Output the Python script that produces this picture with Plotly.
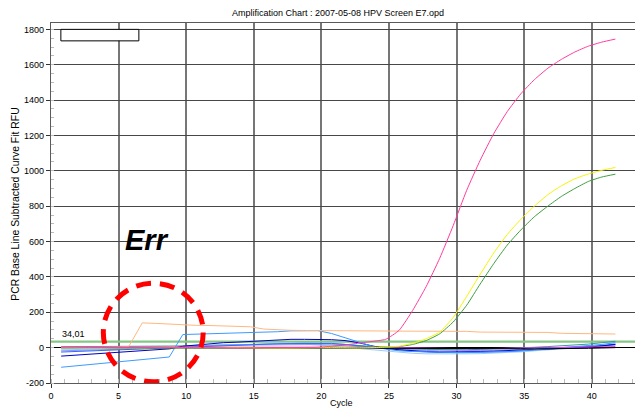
import numpy as np
import plotly.graph_objects as go

# Cycle positions of the curve-fit samples (one per cycle)
cycle = np.arange(42) + 0.75

# Amplifying wells
pink = [2, 2, 1, 1, 0, 0, 1, 2, 2, 1, 0, 0, -1, -2, -2, -1, 0, 0, 1, 2,
        8, 15, 25, 35, 47, 98, 210, 345, 505, 690, 890, 1060, 1210, 1335,
        1435, 1515, 1580, 1630, 1672, 1705, 1728, 1745]
yellow = [0, 0, 0, -1, -2, -2, -2, -1, -1, 0, 0, 0, 0, 0, -1, -2, -2, -2, -1, 0,
          0, -1, -2, 0, 3, 8, 25, 50, 88, 170, 290, 415, 535, 640, 725, 800,
          865, 915, 955, 982, 1003, 1019]
green = [-2, -2, -1, -1, -2, -2, -1, 0, 0, -1, -2, -2, -2, -1, -1, -2, -2, -1, -1, -2,
         -2, -1, 0, 1, 3, 6, 18, 40, 78, 145, 240, 360, 475, 580, 665, 740,
         800, 855, 900, 940, 965, 981]

# Non-amplifying wells
orange = [0, 0, 1, 2, 3, 6, 140, 137, 133, 128, 126, 125, 124, 122, 118, 105, 100, 98, 97, 96,
          95, 95, 94, 94, 94, 93, 93, 93, 93, 92, 92, 88, 88, 88, 87, 87, 86, 81, 81, 80, 80, 77]
sky = [-111, -104, -96, -89, -82, -75, -67, -60, -53, 74, 76, 77, 78, 80, 82, 85, 90, 95, 97, 96,
       80, 55, 30, 8, -8, -18, -22, -25, -26, -27, -27, -26, -25, -22, -18, -12, -8, -3, 3, 10, 18, 28]
navy = [-48, -43, -38, -32, -27, -22, -17, -12, -7, 8, 15, 22, 28, 31, 35, 40, 45, 47, 47, 47,
        45, 40, 28, 10, -5, -12, -18, -22, -25, -25, -24, -22, -20, -17, -12, -8, -5, -5, -3, 2, 10, 18]
blue = [-25, -22, -19, -16, -13, -10, -8, -6, -3, 2, 6, 10, 13, 16, 18, 20, 22, 23, 24, 25,
        24, 18, 10, 0, -8, -15, -20, -24, -27, -28, -28, -27, -25, -22, -18, -14, -10, -5, 0, 6, 12, 20]
lavender = [-18, -16, -14, -12, -10, -8, -6, -4, -2, 5, 10, 12, 14, 15, 16, 17, 18, 18, 18, 17,
            15, 10, 5, 0, -5, -10, -14, -16, -18, -18, -18, -17, -15, -13, -10, -8, -6, -3, 0, 5, 10, 15]
pale = [-12, -10, -8, -7, -6, -5, -4, -3, -2, 0, 4, 8, 12, 15, 18, 20, 22, 22, 20, 15,
        8, 0, -8, -15, -22, -28, -32, -35, -36, -36, -35, -34, -32, -28, -24, -18, -12, -6, 0, 5, 10, 15]
black = [0, 1, 1, 0, -1, -1, 0, 1, 1, 0, -1, -2, -2, -1, 0, 0, -1, -1, 0, 1,
         0, -1, -2, -3, -4, -4, -3, -2, -2, -3, -4, -5, -5, -6, -6, -7, -7, -6, -5, -4, -2, 0]
magenta = [3, 3, 3, 3, 2, 2, 2, 2, 3, 4, 5, 5, 4, 3, 2, 2, 2, 3, 3, 4,
           5, 5, 4, 3, 2, 0, -2, -4, -5, -6, -6, -6, -5, -4, -3, -2, -1, 0, 1, 2, 4, 6]
teal = [5, 5, 6, 6, 7, 7, 8, 8, 9, 10, 12, 14, 16, 18, 20, 22, 24, 25, 25, 24,
        22, 18, 12, 6, 0, -5, -8, -10, -12, -12, -12, -10, -8, -5, -2, 2, 6, 10, 15, 20, 28, 36]

threshold = 34.01
threshold_label = "34,01"

x_ticks = [0, 5, 10, 15, 20, 25, 30, 35, 40]
y_ticks = [-200, 0, 200, 400, 600, 800, 1000, 1200, 1400, 1600, 1800]

FONT = "Liberation Sans, Arial, sans-serif"

fig = go.Figure()

# Threshold line across the full cycle range
fig.add_trace(go.Scatter(x=[0, 43.2], y=[threshold, threshold], mode="lines",
                         line=dict(color="#86C686", width=2.2), hoverinfo="skip"))

flat_series = [
    (teal, "#3A9A9A"), (pale, "#9CCBFF"), (lavender, "#9A8CFF"), (blue, "#2E6BFF"),
    (navy, "#0000C8"), (sky, "#3C9BFF"), (orange, "#FFB780"), (magenta, "#E040E0"),
    (black, "#000000"),
]
for vals, col in flat_series:
    fig.add_trace(go.Scatter(x=cycle, y=vals, mode="lines",
                             line=dict(color=col, width=1), hoverinfo="skip"))

for vals, col in [(green, "#3E9E3E"), (yellow, "#F5F500"), (pink, "#FF3C9E")]:
    fig.add_trace(go.Scatter(x=cycle, y=vals, mode="lines",
                             line=dict(color=col, width=1, shape="spline", smoothing=0.5),
                             hoverinfo="skip"))

# Empty legend frame in the upper-left corner
fig.add_shape(type="rect", xref="x", yref="y", x0=0.73, x1=6.5, y0=1735, y1=1800,
              line=dict(color="#000000", width=1), fillcolor="white", layer="above")

# Red dashed ring around the early-cycle artefact
fig.add_shape(type="circle", xref="x", yref="y", x0=3.87, x1=11.26, y0=-193, y1=364,
              line=dict(color="#FF0000", width=5, dash="15px,9px"), layer="above")

fig.add_annotation(x=7.13, y=606, xref="x", yref="y", text="<b><i>Err</i></b>",
                   showarrow=False, font=dict(family=FONT, size=29, color="#000000"))
fig.add_annotation(x=0.7, y=threshold, xref="x", yref="y", text=threshold_label,
                   xanchor="left", yanchor="bottom", yshift=1, showarrow=False,
                   font=dict(family=FONT, size=9, color="#000000"))

# Axis titles
fig.add_annotation(x=0, y=0.495, xref="paper", yref="paper", xshift=-35,
                   text="PCR Base Line Subtracted Curve Fit RFU", textangle=-90,
                   showarrow=False, xanchor="center", yanchor="middle",
                   font=dict(family=FONT, size=10.4, color="#000000"))
fig.add_annotation(x=0.498, y=0, xref="paper", yref="paper", yshift=-20,
                   text="Cycle", showarrow=False, xanchor="center", yanchor="middle",
                   font=dict(family=FONT, size=9, color="#000000"))

fig.update_layout(
    width=635, height=412,
    margin=dict(l=51, r=0, t=23, b=29),
    paper_bgcolor="white", plot_bgcolor="white",
    showlegend=False,
    title=dict(text="Amplification Chart : 2007-05-08 HPV Screen E7.opd",
               x=338 / 635, y=1 - 13 / 412, xanchor="center", yanchor="middle",
               font=dict(family=FONT, size=9, color="#000000")),
    font=dict(family=FONT, size=9, color="#000000"),
)

fig.update_xaxes(
    range=[0, 43.2], tickvals=x_ticks, ticktext=[str(v) for v in x_ticks],
    showgrid=True, gridcolor="#767676", gridwidth=1.7,
    zeroline=False, showline=True, linecolor="#5A5A5A", linewidth=1.2, mirror=True,
    ticks="outside", ticklen=4, tickcolor="#333333",
    minor=dict(dtick=1, tick0=0, ticks="inside", ticklen=4, tickcolor="#BBBBBB", showgrid=False),
    tickfont=dict(family=FONT, size=9, color="#000000"),
)
fig.update_yaxes(
    range=[-200, 1836], tickvals=y_ticks, ticktext=[str(v) for v in y_ticks],
    showgrid=True, gridcolor="#474747", gridwidth=1,
    zeroline=True, zerolinecolor="#000000", zerolinewidth=1.3,
    showline=True, linecolor="#5A5A5A", linewidth=1.2, mirror=True,
    ticks="outside", ticklen=4, tickcolor="#333333",
    minor=dict(dtick=50, tick0=0, ticks="inside", ticklen=3, tickcolor="#BBBBBB", showgrid=False),
    tickfont=dict(family=FONT, size=9, color="#000000"),
)

fig.write_html("out.html")
